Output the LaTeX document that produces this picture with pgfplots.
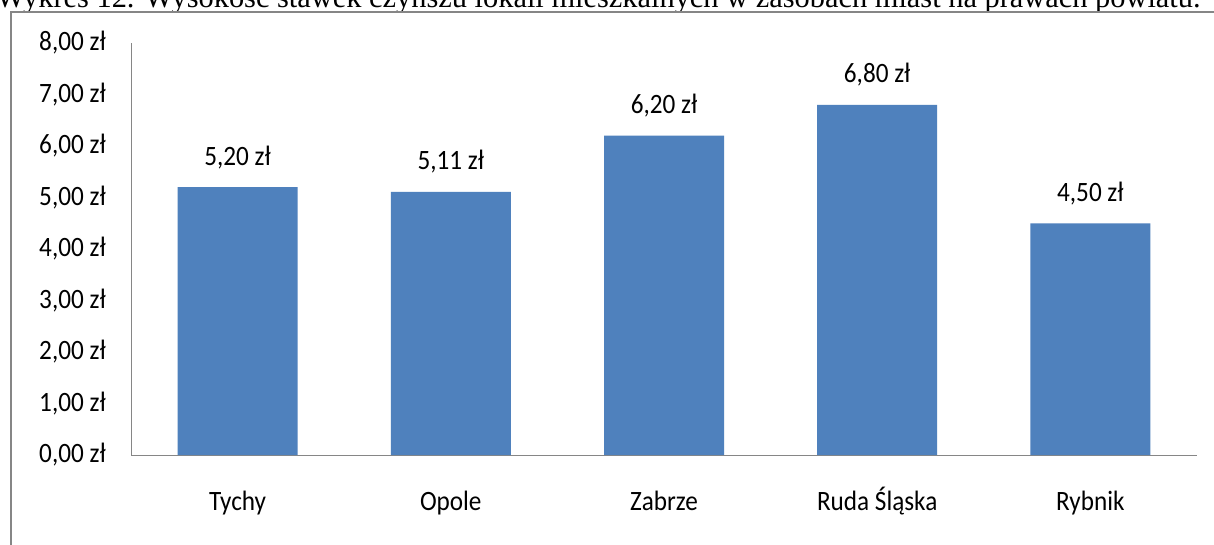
\documentclass[border=0pt]{standalone}
\usepackage{fontspec}
\setmainfont[FakeStretch=0.9]{Carlito}
\newfontfamily\titlefont{Liberation Serif}
\usepackage{pgfplots}
\pgfplotsset{compat=1.18}
\definecolor{barblue}{HTML}{4F81BD}
\definecolor{framegray}{HTML}{868686}
\begin{document}
\begin{tikzpicture}
\useasboundingbox (0,0) rectangle (910.5pt,408pt);
\node[anchor=base west, inner sep=0pt, font=\titlefont\fontsize{22.8pt}{25pt}\selectfont] at (-3pt,402.4pt) {Wykres 12. Wysokość stawek czynszu lokali mieszkalnych w zasobach miast na prawach powiatu.};
\fill[white] (8pt,-5pt) rectangle (920pt,399.2pt);
\draw[framegray, line width=1.6pt] (8pt,-5pt) -- (8pt,399.2pt) -- (920pt,399.2pt);
\begin{axis}[
  at={(98.25pt,66.75pt)}, anchor=south west,
  scale only axis, width=799.5pt, height=309pt,
  ybar, bar width=90pt,
  xmin=-0.5, xmax=4.5, ymin=0, ymax=8,
  axis x line*=bottom, axis y line*=left,
  axis line style={draw=framegray, line width=0.75pt},
  major tick length=0pt,
  xtick={0,1,2,3,4},
  xticklabels={Tychy,Opole,Zabrze,Ruda Śląska,Rybnik},
  ytick={0,1,2,3,4,5,6,7,8},
  yticklabels={{0,00 zł},{1,00 zł},{2,00 zł},{3,00 zł},{4,00 zł},{5,00 zł},{6,00 zł},{7,00 zł},{8,00 zł}},
  tick label style={font=\fontsize{21pt}{24pt}\selectfont, text=black},
  xticklabel style={anchor=base, inner sep=0pt, yshift=-41.25pt},
  yticklabel style={anchor=east, inner sep=0pt, xshift=-18.75pt},
  /pgf/number format/assume math mode=true,
  nodes near coords={\pgfmathprintnumber[fixed,fixed zerofill,precision=2,use comma]{\pgfplotspointmeta}~zł},
  nodes near coords style={font=\fontsize{21pt}{24pt}\selectfont, anchor=base, inner sep=0pt, yshift=16.5pt, text=black},
]
\addplot[fill=barblue, draw=none] coordinates {(0,5.20) (1,5.11) (2,6.20) (3,6.80) (4,4.50)};
\end{axis}
\end{tikzpicture}
\end{document}
